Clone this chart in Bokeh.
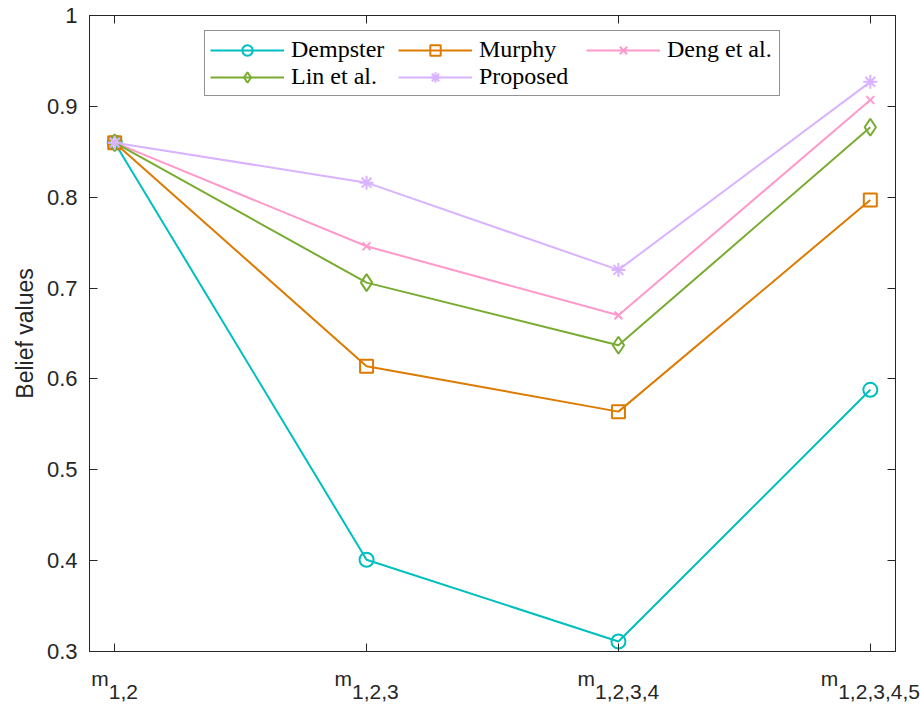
from bokeh.plotting import figure
from bokeh.models import FixedTicker, LinearAxis, Range1d, Legend, LegendItem
from bokeh.embed import file_html
from bokeh.resources import INLINE

# ---- data ----
subscripts = ["1,2", "1,2,3", "1,2,3,4", "1,2,3,4,5"]
x_pos = [1, 2, 3, 4]
dempster = [0.860, 0.401, 0.311, 0.588]
murphy = [0.860, 0.614, 0.564, 0.797]
deng = [0.860, 0.746, 0.670, 0.907]
lin = [0.860, 0.706, 0.637, 0.877]
proposed = [0.860, 0.816, 0.720, 0.927]
series_names = ["Dempster", "Murphy", "Deng et al.", "Lin et al.", "Proposed"]
y_ticks = [0.3, 0.4, 0.5, 0.6, 0.7, 0.8, 0.9, 1.0]
y_tick_labels = ["0.3", "0.4", "0.5", "0.6", "0.7", "0.8", "0.9", "1"]

colors = ["#00BFBF", "#DD7A00", "#FF99CC", "#77AC30", "#D9B3FF"]
markers = ["circle", "square", "x", "diamond", "asterisk"]
msizes = [14, 13, 11, 17, 14]
series = [dempster, murphy, deng, lin, proposed]

AX = "#262626"
SANS = "Liberation Sans"
W, H = 920, 706
B_LEFT, B_RIGHT, B_TOP, B_BOTTOM = 89, 25, 15, 55

p = figure(width=W, height=H, output_backend="svg", toolbar_location=None,
           x_range=Range1d(0.9, 4.1), y_range=Range1d(0.3, 1.0),
           min_border_left=B_LEFT, min_border_right=B_RIGHT,
           min_border_top=B_TOP, min_border_bottom=B_BOTTOM)
p.grid.visible = False
p.outline_line_color = AX
p.outline_line_width = 1
p.background_fill_color = "white"
p.border_fill_color = "white"

def style_axis(ax, show_labels):
    ax.axis_line_color = AX
    ax.major_tick_line_color = AX
    ax.major_tick_in = 8
    ax.major_tick_out = 0
    ax.minor_tick_line_color = None
    ax.major_label_text_font = SANS
    ax.major_label_text_color = AX
    if not show_labels:
        ax.major_label_text_color = None
        ax.major_label_text_font_size = "1px"
        ax.major_label_standoff = 0

# ---- x tick labels: "m" with a subscript, as two-line labels ----
FS = 21
SP = 0.278 * FS          # width of a (no-break) space
def text_w(t, size):
    return sum((0.833 if ch == "m" else (0.278 if ch == "," else 0.556)) for ch in t) * size

NBSP = "\u00a0"
x_labels = {}
for xv, sub in zip(x_pos, subscripts):
    wm, ws = text_w("m", FS), text_w(sub, FS)
    line2 = NBSP * 3 + sub
    n1 = max(0, round((3 * SP + ws - wm) / SP))
    line1 = "m" + NBSP * n1
    x_labels[xv] = line1 + "\n" + line2

p.xaxis.ticker = FixedTicker(ticks=x_pos)
style_axis(p.xaxis[0], True)
p.xaxis.major_label_overrides = x_labels
p.xaxis.major_label_text_font_size = f"{FS}px"
p.xaxis.major_label_text_line_height = 0.6
p.xaxis.major_label_standoff = 15

p.yaxis.ticker = FixedTicker(ticks=y_ticks)
style_axis(p.yaxis[0], True)
p.yaxis.major_label_overrides = {t: s for t, s in zip(y_ticks, y_tick_labels)}
p.yaxis.major_label_text_font_size = "22px"
p.yaxis.major_label_standoff = 12
p.yaxis.axis_label = "Belief values"
p.yaxis.axis_label_text_font = SANS
p.yaxis.axis_label_text_font_size = "23px"
p.yaxis.axis_label_text_font_style = "normal"
p.yaxis.axis_label_text_color = AX
p.yaxis.axis_label_standoff = 6

top_ax = LinearAxis(ticker=FixedTicker(ticks=x_pos))
style_axis(top_ax, False)
p.add_layout(top_ax, "above")
right_ax = LinearAxis(ticker=FixedTicker(ticks=y_ticks))
style_axis(right_ax, False)
p.add_layout(right_ax, "right")

items = []
for name, ys, c, m, s in zip(series_names, series, colors, markers, msizes):
    r1 = p.line(x_pos, ys, line_color=c, line_width=2)
    r2 = p.scatter(x_pos, ys, marker=m, size=s, line_color=c, line_width=2, fill_color=None)
    items.append(LegendItem(label=name, renderers=[r1, r2]))

legend = Legend(items=items, location=(115, 555), orientation="horizontal", ncols=3,
                label_text_font="Liberation Serif", label_text_font_size="24px",
                label_text_color="black",
                glyph_width=74, glyph_height=26, label_standoff=7, label_height=20,
                label_width=107, padding=5, spacing=0, margin=0,
                border_line_color=AX, border_line_width=1,
                background_fill_color="white", background_fill_alpha=1)
p.add_layout(legend)

open("out.html", "w").write(file_html(p, INLINE))
